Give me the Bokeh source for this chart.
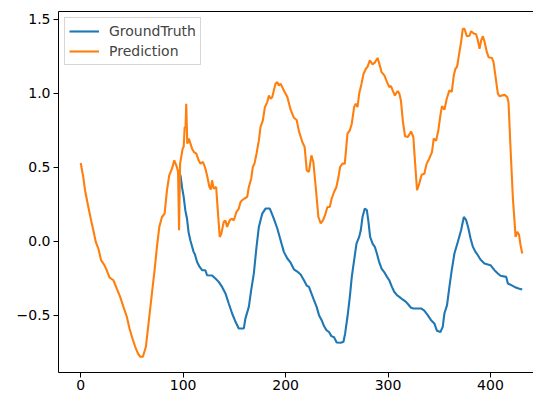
from bokeh.plotting import figure
from bokeh.models import Range1d, FixedTicker, LinearAxis, CustomJSTickFormatter
from bokeh.embed import file_html
from bokeh.resources import INLINE

# Prediction series
pred_x = [0, 2.5, 4.2, 7.4, 10.1, 12.3, 14.7, 17.2, 19.9, 23.1, 25.4, 28.0, 31.9, 35.2, 38.5,
          41.7, 45.0, 47.6, 50.5, 53.2, 55.8, 58.0, 60.7, 63.6, 66.2, 69.5, 72.1, 74.4, 76.7,
          79.3, 81.9, 84.2, 86.4, 89.1, 91.3, 93.9, 95.0, 96.0, 97.0, 99.5, 100.5, 101.5, 102.3,
          103.0, 104.0, 105.5, 108.7, 110.5, 112.9, 115.1, 116.8, 119.4, 121.7, 123.3, 125.6,
          127.0, 128.2, 129.8, 132.2, 133.8, 135.7, 137.3, 139.6, 141.2, 142.9, 145.5, 147.8,
          149.4, 152.0, 154.3, 156.0, 157.6, 159.9, 162.5, 164.1, 166.4, 168.0, 169.6, 171.6,
          173.9, 175.5, 177.8, 179.8, 182.1, 183.7, 185.4, 187.0, 188.5, 190.2, 191.9, 193.5,
          195.1, 198.3, 201.7, 204.9, 208.1, 210.8, 213.0, 216.3, 218.6, 220.6, 222.8, 225.2,
          227.1, 229.4, 232.0, 234.3, 236.6, 238.5, 240.8, 243.1, 245.0, 247.3, 249.6, 251.6,
          253.2, 255.5, 257.8, 260.4, 262.7, 264.6, 266.9, 268.5, 270.2, 271.8, 274.1, 276.1,
          278.4, 280.0, 282.2, 284.9, 287.2, 289.8, 291.5, 293.7, 296.4, 299.0, 301.2, 302.9,
          304.5, 306.7, 309.4, 311.0, 312.6, 314.5, 316.6, 319.4, 322.4, 324.7, 326.3, 328.3,
          330.5, 332.8, 335.4, 337.7, 340.3, 342.9, 344.6, 346.9, 349.1, 351.1, 352.7, 355.0,
          357.3, 359.9, 362.2, 364.2, 365.8, 367.4, 369.7, 371.3, 373.0, 374.6, 376.9, 379.5,
          381.1, 383.7, 386.0, 387.7, 389.3, 390.9, 392.6, 394.2, 396.5, 398.1, 401.4, 403.0,
          405.0, 407.2, 409.0, 410.6, 413.9, 416.3, 417.6, 419.6, 421.9, 423.5, 424.5, 426.1,
          427.8, 429.4, 431.0]
pred_y = [0.529, 0.434, 0.345, 0.232, 0.142, 0.074, -0.005, -0.05, -0.128, -0.162, -0.196,
          -0.245, -0.264, -0.32, -0.376, -0.444, -0.511, -0.59, -0.658, -0.714, -0.759, -0.781,
          -0.781, -0.714, -0.556, -0.353, -0.196, -0.038, 0.097, 0.164, 0.187, 0.345, 0.446,
          0.491, 0.547, 0.502, 0.47, 0.074, 0.525, 0.626, 0.64, 0.772, 0.77, 0.93, 0.66, 0.694,
          0.626, 0.603, 0.592, 0.547, 0.525, 0.536, 0.491, 0.446, 0.367, 0.35, 0.412, 0.356,
          0.367, 0.209, 0.029, 0.052, 0.131, 0.14, 0.097, 0.142, 0.153, 0.14, 0.198, 0.221,
          0.266, 0.277, 0.289, 0.30, 0.367, 0.423, 0.502, 0.525, 0.592, 0.682, 0.772, 0.818,
          0.907, 0.941, 0.986, 0.964, 0.975, 1.02, 1.066, 1.076, 1.054, 1.066, 1.02, 0.975,
          0.89, 0.835, 0.82, 0.745, 0.671, 0.637, 0.48, 0.47, 0.581, 0.536, 0.367, 0.164, 0.12,
          0.142, 0.176, 0.232, 0.232, 0.289, 0.333, 0.367, 0.434, 0.502, 0.525, 0.525, 0.728,
          0.75, 0.795, 0.907, 0.93, 0.907, 0.998, 1.066, 1.133, 1.167, 1.18, 1.223, 1.196, 1.21,
          1.24, 1.2, 1.144, 1.122, 1.076, 1.043, 1.05, 1.02, 0.986, 1.016, 1.0, 0.95, 0.81,
          0.71, 0.705, 0.742, 0.705, 0.54, 0.345, 0.39, 0.45, 0.457, 0.525, 0.56, 0.603, 0.694,
          0.68, 0.75, 0.851, 0.914, 0.89, 0.964, 1.02, 1.01, 1.122, 1.167, 1.18, 1.279, 1.347,
          1.437, 1.437, 1.387, 1.39, 1.421, 1.405, 1.40, 1.358, 1.302, 1.358, 1.387, 1.35,
          1.279, 1.245, 1.24, 1.212, 1.11, 0.998, 0.98, 0.985, 0.99, 0.975, 0.94, 0.626, 0.289,
          0.131, 0.029, 0.063, 0.045, -0.027, -0.083]

# GroundTruth series
gt_x = [96.0, 97.5, 99.0, 100.5, 102.1, 103.8, 105.3, 107.0, 108.5, 110.2, 111.5, 113.6, 116.1,
        118.5, 121.7, 123.3, 128.2, 131.5, 134.7, 138.0, 141.3, 144.5, 147.8, 151.1, 154.3,
        159.2, 160.8, 164.1, 166.4, 169.0, 171.6, 173.9, 177.2, 180.4, 184.6, 188.5, 191.9,
        195.1, 198.3, 201.7, 204.9, 208.1, 211.4, 214.7, 217.9, 220.6, 222.8, 225.2, 227.7,
        230.3, 232.6, 235.2, 237.5, 239.8, 242.4, 244.7, 247.3, 249.9, 253.8, 256.5, 258.1,
        260.4, 262.7, 264.6, 266.9, 269.2, 271.8, 273.4, 275.1, 277.3, 279.3, 280.9, 282.5,
        284.9, 287.2, 289.1, 291.3, 293.7, 296.4, 299.0, 301.2, 303.8, 306.0, 308.7, 311.0,
        314.2, 317.5, 320.0, 322.4, 325.0, 332.2, 335.4, 338.7, 342.0, 345.2, 347.8, 351.1,
        353.4, 355.0, 357.6, 359.9, 362.2, 364.8, 368.1, 371.3, 374.0, 376.3, 378.5, 380.5,
        382.8, 385.4, 387.7, 390.2, 394.1, 400.0, 403.9, 407.2, 409.8, 415.3, 417.0, 420.3,
        423.5, 427.4, 431.0]
gt_y = [0.48, 0.44, 0.36, 0.30, 0.21, 0.15, 0.06, 0.007, -0.03, -0.072, -0.09, -0.14, -0.174,
        -0.196, -0.196, -0.23, -0.232, -0.252, -0.275, -0.309, -0.353, -0.421, -0.489, -0.545,
        -0.59, -0.59, -0.522, -0.444, -0.331, -0.218, -0.038, 0.097, 0.187, 0.221, 0.221,
        0.153, 0.086, 0.007, -0.072, -0.117, -0.145, -0.19, -0.205, -0.225, -0.264, -0.3,
        -0.309, -0.353, -0.399, -0.444, -0.5, -0.534, -0.574, -0.601, -0.614, -0.642, -0.65,
        -0.685, -0.687, -0.68, -0.624, -0.511, -0.376, -0.241, -0.128, -0.016, 0.029, 0.074,
        0.164, 0.221, 0.21, 0.131, 0.029, -0.016, -0.04, -0.083, -0.14, -0.185, -0.21, -0.241,
        -0.264, -0.309, -0.342, -0.365, -0.376, -0.394, -0.41, -0.43, -0.45, -0.455, -0.455,
        -0.47, -0.5, -0.534, -0.556, -0.606, -0.614, -0.579, -0.489, -0.432, -0.309, -0.196,
        -0.083, -0.005, 0.074, 0.164, 0.142, 0.086, 0.02, -0.038, -0.072, -0.095, -0.124,
        -0.151, -0.162, -0.196, -0.218, -0.234, -0.241, -0.286, -0.297, -0.309, -0.32, -0.327]

x_ticks = [0, 100, 200, 300, 400]
y_ticks = [-0.5, 0.0, 0.5, 1.0, 1.5]

FONT = "DejaVu Sans"

p = figure(width=533, height=397, output_backend="svg", toolbar_location=None,
           x_range=Range1d(-21.7, 442.0), y_range=Range1d(-0.888, 1.554),
           min_border_left=58, min_border_right=0, min_border_top=11, min_border_bottom=25)
p.outline_line_color = None
p.xgrid.visible = False
p.ygrid.visible = False
p.background_fill_color = "white"
p.border_fill_color = "white"

p.line(gt_x, gt_y, line_color="#1f77b4", line_width=2.1, legend_label="GroundTruth")
p.line(pred_x, pred_y, line_color="#ff7f0e", line_width=2.1, legend_label="Prediction")

for ax in (p.xaxis[0], p.yaxis[0]):
    ax.major_tick_in = 0
    ax.major_tick_out = 5
    ax.minor_tick_line_color = None
    ax.axis_line_color = "black"
    ax.major_tick_line_color = "black"
    ax.major_label_text_font = FONT
    ax.major_label_text_font_size = "14px"
    ax.major_label_text_color = "black"

p.xaxis[0].ticker = FixedTicker(ticks=x_ticks)
p.xaxis[0].major_label_standoff = 2
p.yaxis[0].ticker = FixedTicker(ticks=y_ticks)
p.yaxis[0].major_label_standoff = 3
p.yaxis[0].formatter = CustomJSTickFormatter(code="return tick.toFixed(1).replace('-', '\u2212');")

top = LinearAxis(major_tick_line_color=None, minor_tick_line_color=None,
                 major_label_text_font_size="0px", major_label_standoff=0,
                 axis_line_color="black", ticker=FixedTicker(ticks=[]))
p.add_layout(top, "above")

lg = p.legend[0]
lg.location = "top_left"
lg.margin = 6
lg.padding = 4
lg.spacing = 2
lg.glyph_width = 30
lg.glyph_height = 18
lg.label_height = 18
lg.label_standoff = 10
lg.label_text_font = FONT
lg.label_text_font_size = "14px"
lg.border_line_color = "#cccccc"
lg.border_line_alpha = 0.8
lg.background_fill_alpha = 0.8

open("out.html", "w").write(file_html(p, INLINE))
